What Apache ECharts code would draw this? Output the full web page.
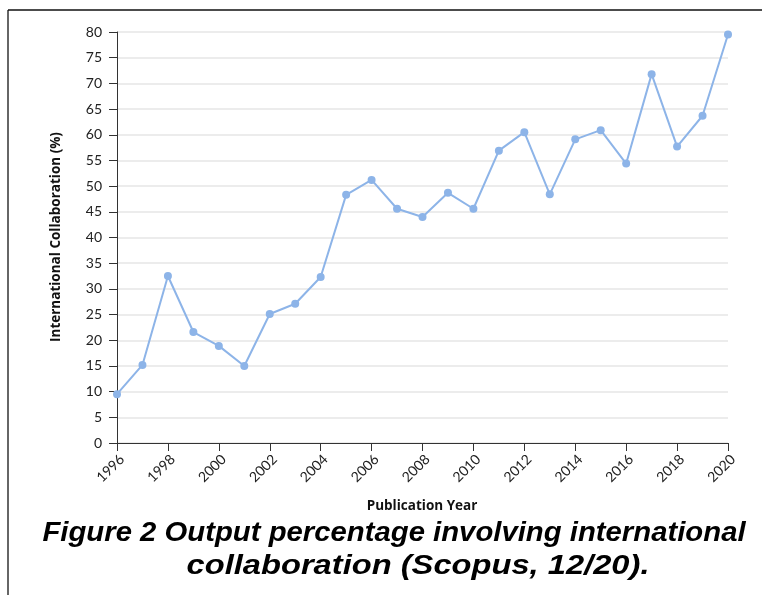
<!DOCTYPE html>
<html>
<head>
<meta charset="utf-8">
<script src="https://cdn.jsdelivr.net/npm/echarts@6/dist/echarts.min.js"></script>
<style>
html,body{margin:0;padding:0;background:#fff;}
#c{width:762px;height:595px;}
</style>
</head>
<body>
<div id="c"></div>
<script>
const years = ['1996','1997','1998','1999','2000','2001','2002','2003','2004','2005','2006','2007','2008','2009','2010','2011','2012','2013','2014','2015','2016','2017','2018','2019','2020'];
const collab = [9.5,15.2,32.5,21.6,18.9,15.0,25.1,27.1,32.3,48.3,51.2,45.6,44.0,48.7,45.6,56.9,60.5,48.4,59.1,60.9,54.4,71.8,57.7,63.7,79.5];
const captionLines = ['Figure 2 Output percentage involving international','collaboration (Scopus, 12/20).'];

const chart = echarts.init(document.getElementById('c'), null, {renderer:'canvas'});
const tickFont = 'Lato, "Open Sans", sans-serif';
const capFont = 'italic bold 27px "Liberation Sans", Arial, sans-serif';
chart.setOption({
  animation:false,
  backgroundColor:'#fff',
  grid:{left:117,right:34,top:32,bottom:152,containLabel:false},
  xAxis:{
    type:'category',
    data:years,
    boundaryGap:false,
    axisLine:{lineStyle:{color:'#333',width:1}},
    axisTick:{interval:1,length:8,lineStyle:{color:'#333'}},
    axisLabel:{interval:1,rotate:45,align:'right',verticalAlign:'top',color:'#222',fontSize:14,fontFamily:tickFont,margin:9},
    splitLine:{show:false}
  },
  yAxis:{
    type:'value',
    min:0,max:80,interval:5,
    axisLine:{show:true,lineStyle:{color:'#333',width:1}},
    axisTick:{show:true,length:8,lineStyle:{color:'#333'}},
    axisLabel:{color:'#222',fontSize:14,fontFamily:tickFont,margin:15},
    splitLine:{show:true,lineStyle:{color:'#ececec',width:2}}
  },
  series:[{
    type:'line',
    data:collab,
    symbol:'circle',
    symbolSize:8,
    lineStyle:{color:'#8db4e8',width:2},
    itemStyle:{color:'#8db4e8'}
  }],
  graphic:[
    {type:'line',shape:{x1:8,y1:10,x2:8,y2:595},style:{stroke:'#333',lineWidth:1.5}},
    {type:'line',shape:{x1:8,y1:10,x2:762,y2:10},style:{stroke:'#111',lineWidth:1.5}},
    {type:'text',x:56,y:237,rotation:Math.PI/2,style:{text:'International Collaboration (%)',fill:'#111',font:'bold 13.5px "Open Sans", Lato, sans-serif',textAlign:'center',textVerticalAlign:'middle'}},
    {type:'text',x:422,y:506,style:{text:'Publication Year',fill:'#111',font:'bold 13.5px "Open Sans", Lato, sans-serif',textAlign:'center',textVerticalAlign:'middle'}},
    {type:'text',x:394,y:534,scaleX:1.085,style:{text:captionLines[0],fill:'#000',font:capFont,textAlign:'center',textVerticalAlign:'middle'}},
    {type:'text',x:418,y:567,scaleX:1.21,style:{text:captionLines[1],fill:'#000',font:capFont,textAlign:'center',textVerticalAlign:'middle'}}
  ]
});
</script>
</body>
</html>
